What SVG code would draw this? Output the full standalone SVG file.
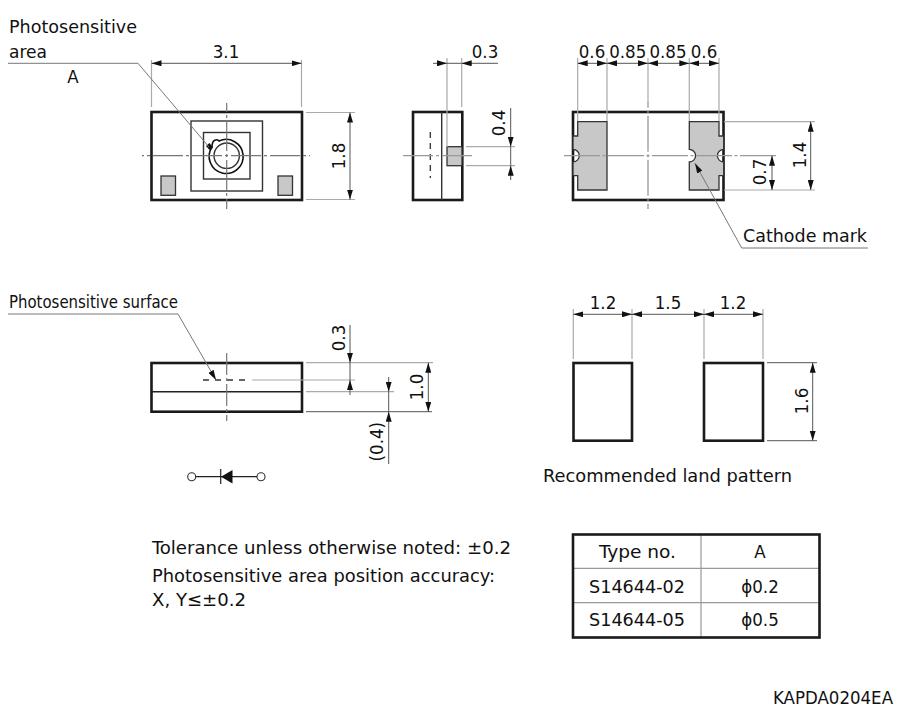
<svg xmlns="http://www.w3.org/2000/svg" width="906" height="718" viewBox="0 0 906 718">
<style>
text{font-family:"DejaVu Sans","Noto Sans",sans-serif;font-stretch:condensed;font-size:18.5px;fill:#111}
.m{text-anchor:middle}
.o{fill:none;stroke:#1a1a1a;stroke-width:2.6}
.t{fill:none;stroke:#333;stroke-width:1.4}
.p{fill:#c8c8c8;stroke:#333;stroke-width:1.3}
.c{fill:none;stroke:#999;stroke-width:1.3;stroke-dasharray:36 2.5 3 2.5}
.k{fill:none;stroke:#777;stroke-width:1.2;stroke-dasharray:30 3 3 3}
.e{fill:none;stroke:#aaa;stroke-width:1.2}
.d{fill:none;stroke:#555;stroke-width:1}
.a{fill:none;stroke:#555;stroke-width:1;marker-end:url(#ah)}
.l{fill:none;stroke:#777;stroke-width:1}
</style>
<defs>
<marker id="ah" viewBox="0 0 10 6" refX="10" refY="3" markerWidth="10" markerHeight="6" markerUnits="userSpaceOnUse" orient="auto"><path d="M0 0L10 3L0 6Z" fill="#111"/></marker>
</defs>
<rect width="906" height="718" fill="#fff"/>
<g id="top-view">
<rect class="o" x="151.5" y="112" width="150.5" height="88"/>
<rect class="t" x="191" y="121" width="71.5" height="70"/>
<rect class="t" x="203.5" y="132.5" width="46.5" height="46.5"/>
<circle class="t" cx="226.7" cy="155.7" r="12.7"/>
<path class="t" style="stroke:#111;stroke-width:1.6" d="M212 147A17 17 0 1 0 219 141C217 139 212 139 212 147Z"/>
<rect class="p" x="161" y="176" width="14.5" height="19.3"/>
<rect class="p" x="278" y="176" width="14.5" height="19.3"/>
<path class="k" style="stroke-dashoffset:-11" d="M142 155.7H310"/>
<path class="k" style="stroke-dashoffset:-18" d="M226.7 103V209"/>
<path d="M209.500 143L213 147.500L209.500 150L206 146Z" fill="#111"/>
</g>
<g id="side-view">
<rect class="o" x="413" y="112" width="49.300" height="88"/>
<path class="t" d="M441.700 112V200"/>
<rect class="p" x="447" y="146.700" width="15" height="19"/>
<path d="M430.300 132V178" fill="none" stroke="#333" stroke-width="1.300" stroke-dasharray="6 5"/>
<path class="c" style="stroke-dasharray:30 3 3 3" d="M403 155.700H472"/>
</g>
<g id="bottom-view">
<rect class="o" x="573" y="112" width="150.500" height="88"/>
<path class="p" d="M577.700 121.700H607V190H577.700V175.700H573V162A6.300 6.300 0 0 0 573 149.400V136H577.700Z"/>
<path class="p" d="M689.300 121.700H719V136H723.700V149.400A6.300 6.300 0 0 0 723.700 162V175.700H719V190H689.300V162A6.300 6.300 0 0 0 689.300 149.400Z"/>
<path class="c" style="stroke-dashoffset:-1" d="M563 155.700H777"/>
<path class="c" style="stroke-dashoffset:-13.7" d="M648 102V209"/>
</g>
<g id="section-view">
<rect class="o" x="151.500" y="363" width="150.500" height="48.700"/>
<path d="M151.500 391.700H302" fill="none" stroke="#222" stroke-width="1.500"/>
<path d="M203 380H250" fill="none" stroke="#333" stroke-width="1.300" stroke-dasharray="6 6"/>
<path class="k" style="stroke-dasharray:22 3 3 3" d="M226.700 353V421"/>
</g>
<g id="diode-symbol">
<circle cx="191.700" cy="476.700" r="4" fill="none" stroke="#333" stroke-width="1.100"/>
<circle cx="261" cy="476.700" r="4" fill="none" stroke="#333" stroke-width="1.100"/>
<path d="M195.700 476.700H257M220.700 469V484" fill="none" stroke="#222" stroke-width="1.200"/>
<path d="M221 476.700L232.500 470V483.500Z" fill="#111"/>
</g>
<g id="land-pattern">
<rect class="o" x="573.500" y="363" width="58.500" height="77.700"/>
<rect class="o" x="704" y="363" width="59" height="77.700"/>
</g>
<g id="type-table">
<path d="M701 534.500V637.500M573 568.300H819M573 602.700H819" fill="none" stroke="#999" stroke-width="1.200"/>
<rect class="o" x="573" y="534.500" width="246.500" height="103"/>
<text x="599" y="558" textLength="77" lengthAdjust="spacingAndGlyphs">Type no.</text>
<text class="m" x="760" y="558">A</text>
<text x="589" y="593" textLength="96" lengthAdjust="spacingAndGlyphs">S14644-02</text>
<text class="m" x="760" y="593">ϕ0.2</text>
<text x="589" y="626" textLength="96" lengthAdjust="spacingAndGlyphs">S14644-05</text>
<text class="m" x="760" y="626">ϕ0.5</text>
</g>
<g id="connectors">
<path class="e" d="M151.500 60V107M301.500 60V107M306 112.500H355M306 199.500H355"/>
<path class="a" d="M226 63.300H151.500"/><path class="a" d="M226 63.300H301.500"/>
<path class="a" d="M350 156V112.500"/><path class="a" d="M350 156V199.500"/>
<path class="l" d="M8 63.300H138L209 147"/>
<path class="e" d="M447 58V147M461.700 58V107M466 146.700H515M466 165.700H515"/>
<path class="a" d="M433 63.300H447"/><path class="a" d="M498 63.300H461.700"/><path class="d" d="M447 63.300H461.700"/>
<path class="a" d="M510.700 108V146.700"/><path class="a" d="M510.700 180V165.700"/><path class="d" d="M510.700 146.700V165.700"/>
<path class="e" d="M577.700 58V121M607 58V121M648 58V102M689.300 58V121M719 58V121M724 121.700H815M724 190H815"/>
<path class="a" d="M592 63.300H577.700"/><path class="a" d="M592 63.300H607"/>
<path class="a" d="M627 63.300H607"/><path class="a" d="M627 63.300H648"/>
<path class="a" d="M668 63.300H648"/><path class="a" d="M668 63.300H689.300"/>
<path class="a" d="M704 63.300H689.300"/><path class="a" d="M704 63.300H719"/>
<path class="a" d="M810.700 156V121.700"/><path class="a" d="M810.700 156V190"/>
<path class="a" d="M772 173V155.700"/><path class="a" d="M772 173V190"/>
<path class="l" d="M741.700 248H868" />
<path class="l" d="M741.700 248L695 163.300" style="marker-end:url(#ah)"/>
<path class="e" d="M252 380H355M306 362.700H433M306 391.700H394"/>
<path class="d" d="M306 411.700H432"/>
<path class="a" d="M350 325V362.700"/><path class="a" d="M350 395V380"/><path class="d" d="M350 362.700V380"/>
<path class="a" d="M428.300 387V362.700"/><path class="a" d="M428.300 387V411.700"/>
<path class="a" d="M388.700 377V391.700"/><path class="a" d="M388.700 464V411.700"/><path class="d" d="M388.700 391.700V411.700"/>
<path class="l" d="M8 314H178L216 380" style="marker-end:url(#ah)"/>
<path class="e" d="M573.300 309V359M632 309V359M704 309V359M763 309V359"/>
<path class="d" d="M767 362.700H817M767 440.700H817"/>
<path class="a" d="M603 314.300H573.300"/><path class="a" d="M603 314.300H632"/>
<path class="a" d="M668 314.300H632"/><path class="a" d="M668 314.300H704"/>
<path class="a" d="M733 314.300H704"/><path class="a" d="M733 314.300H763"/>
<path class="a" d="M812.700 402V362.700"/><path class="a" d="M812.700 402V440.700"/>
</g>
<g id="labels">
<text x="9" y="32.700" textLength="128" lengthAdjust="spacingAndGlyphs">Photosensitive</text>
<text x="9" y="58" textLength="38" lengthAdjust="spacingAndGlyphs">area</text>
<text class="m" x="73" y="82.700">A</text>
<text class="m" x="226" y="58">3.1</text>
<text class="m" transform="translate(345 156) rotate(-90)">1.8</text>
<text class="m" x="485" y="58">0.3</text>
<text class="m" transform="translate(505 123) rotate(-90)">0.4</text>
<text class="m" x="592" y="58">0.6</text>
<text class="m" x="627.700" y="58">0.85</text>
<text class="m" x="668" y="58">0.85</text>
<text class="m" x="704" y="58">0.6</text>
<text class="m" transform="translate(806 155) rotate(-90)">1.4</text>
<text class="m" transform="translate(766 172) rotate(-90)">0.7</text>
<text x="743" y="242" textLength="124" lengthAdjust="spacingAndGlyphs">Cathode mark</text>
<text x="9" y="308" textLength="169" lengthAdjust="spacingAndGlyphs">Photosensitive surface</text>
<text class="m" transform="translate(345 338) rotate(-90)">0.3</text>
<text class="m" transform="translate(423 387) rotate(-90)">1.0</text>
<text class="m" transform="translate(383 441.700) rotate(-90)">(0.4)</text>
<text class="m" x="603" y="309">1.2</text>
<text class="m" x="668" y="309">1.5</text>
<text class="m" x="733" y="309">1.2</text>
<text class="m" transform="translate(808 401) rotate(-90)">1.6</text>
<text x="543" y="481.700" textLength="249" lengthAdjust="spacingAndGlyphs">Recommended land pattern</text>
<text x="152" y="554.300" textLength="359" lengthAdjust="spacingAndGlyphs">Tolerance unless otherwise noted: ±0.2</text>
<text x="152" y="581.700" textLength="343" lengthAdjust="spacingAndGlyphs">Photosensitive area position accuracy:</text>
<text x="152" y="605.700" textLength="94" lengthAdjust="spacingAndGlyphs">X, Y≤±0.2</text>
<text x="773" y="704" textLength="120" lengthAdjust="spacingAndGlyphs">KAPDA0204EA</text>
</g>
</svg>
